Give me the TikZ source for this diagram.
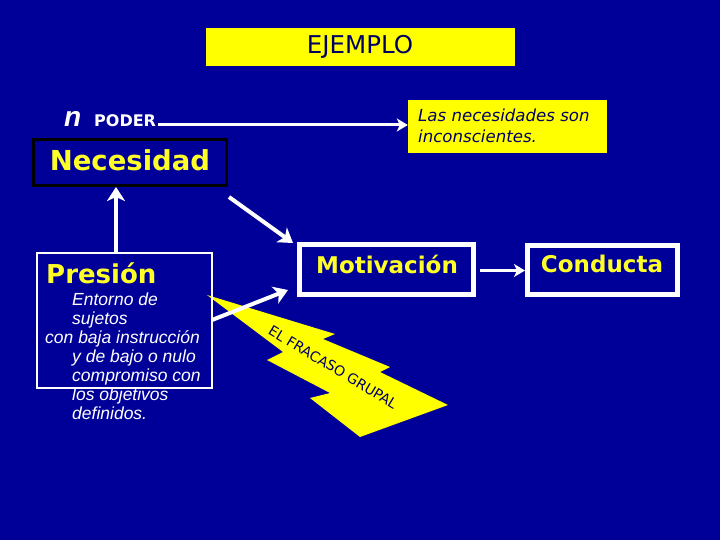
\documentclass[tikz,border=0pt]{standalone}
\usepackage{fontspec}
\setmainfont{DejaVu Sans}
\newfontfamily\arialf{Liberation Sans}
\usetikzlibrary{arrows.meta}
\definecolor{bg}{RGB}{0,0,153}
\definecolor{yel}{RGB}{255,255,0}
\definecolor{ytxt}{RGB}{255,255,40}
\definecolor{navy}{RGB}{0,0,100}
\begin{document}
\begin{tikzpicture}[x=1pt,y=-1pt,
  whitebox/.style={draw=white,line width=5pt,fill=bg,inner sep=0pt},
  yelbox/.style={fill=yel,inner sep=0pt},
  bigtxt/.style={text=ytxt,font=\bfseries\fontsize{23}{27}\selectfont,inner sep=0pt},
  bodytxt/.style={text=white,font=\arialf\itshape\fontsize{17.5}{19}\selectfont,anchor=base west,inner sep=0pt},
  arr/.style={draw=white,line width=4pt,-{Stealth[length=14pt,width=18pt,inset=4pt]}},
  thinarr/.style={draw=white,line width=3pt,-{Stealth[length=11pt,width=13pt,inset=3pt]}}]
\useasboundingbox (0,0) rectangle (720,540);
\fill[bg] (0,0) rectangle (720,540);

% title
\node[yelbox,minimum width=309pt,minimum height=38pt] (ej) at (360.5,47) {};
\node[text=navy,font=\fontsize{24.5}{28}\selectfont,inner sep=0pt] (ejt) at (360,47) {EJEMPLO};

% n PODER
\node[text=white,font=\arialf\bfseries\itshape\fontsize{28}{30}\selectfont,anchor=base west,inner sep=0pt] (nb) at (64,127) {n};
\node[text=white,font=\bfseries\fontsize{16}{18}\selectfont,anchor=base west,inner sep=0pt] (poder) at (94,127) {PODER};

% Las necesidades box
\node[yelbox,minimum width=199pt,minimum height=53pt] (las) at (507.5,126.5) {};
\node[text=navy,font=\itshape\fontsize{16.6}{21}\selectfont,anchor=base west,inner sep=0pt] (las1) at (418,122) {Las necesidades son};
\node[text=navy,font=\itshape\fontsize{16.6}{21}\selectfont,anchor=base west,inner sep=0pt] (las2) at (418,143) {inconscientes.};

\coordinate (pe) at (158,125);
\draw[thinarr] (pe) -- (las.west |- pe);

% Necesidad
\node[draw=black,line width=3pt,fill=bg,minimum width=193pt,minimum height=46pt,inner sep=0pt] (nec) at (130,162.5) {};
\node[text=ytxt,font=\bfseries\fontsize{27.5}{30}\selectfont,inner sep=0pt] (nect) at (130,160) {Necesidad};

% lightning bolt
\fill[yel] (207,295) -- (335,334) -- (323,339) -- (390,367) -- (380,372) -- (448,405)
  -- (360,437) -- (310,398) -- (330,393) -- (267,360) -- (283,352) -- cycle;
\node[text=navy,font=\fontsize{14}{15}\selectfont,rotate=-31,inner sep=0pt] (fr) at (333,367) {EL FRACASO GRUPAL};

% Presion box
\node[draw=white,line width=2.5pt,minimum width=175pt,minimum height=135pt,inner sep=0pt] (pres) at (124.5,320.5) {};
\node[text=ytxt,font=\bfseries\fontsize{26}{30}\selectfont,anchor=base west,inner sep=0pt] (prest) at (46,283) {Presión};
\node[bodytxt] (b1) at (72,305) {Entorno de};
\node[bodytxt] (b2) at (72,324) {sujetos};
\node[bodytxt] (b3) at (45,343) {con baja instrucción};
\node[bodytxt] (b4) at (72,362) {y de bajo o nulo};
\node[bodytxt] (b5) at (72,381) {compromiso con};
\node[bodytxt] (b6) at (72,400) {los objetivos};
\node[bodytxt] (b7) at (72,419) {definidos.};

% Motivacion and Conducta
\node[whitebox,minimum width=174pt,minimum height=50pt] (mot) at (386.5,269.5) {};
\node[bigtxt] (mott) at (387,264) {Motivación};
\node[whitebox,minimum width=150pt,minimum height=49pt] (con) at (602.5,270) {};
\node[bigtxt] (cont) at (602,264) {Conducta};

% arrows
\coordinate (up0) at (116,253);
\draw[arr] (up0) -- (nec.south -| up0);
\coordinate (d0) at (229,197);
\coordinate (d1) at (293,243);
\draw[arr] (d0) -- (d1);
\coordinate (p0) at (212,320);
\coordinate (p1) at (288,290);
\draw[arr] (p0) -- (p1);
\draw[thinarr] (mot.east) ++(4,1) coordinate (m0) -- (con.west |- m0);
\end{tikzpicture}
\end{document}
